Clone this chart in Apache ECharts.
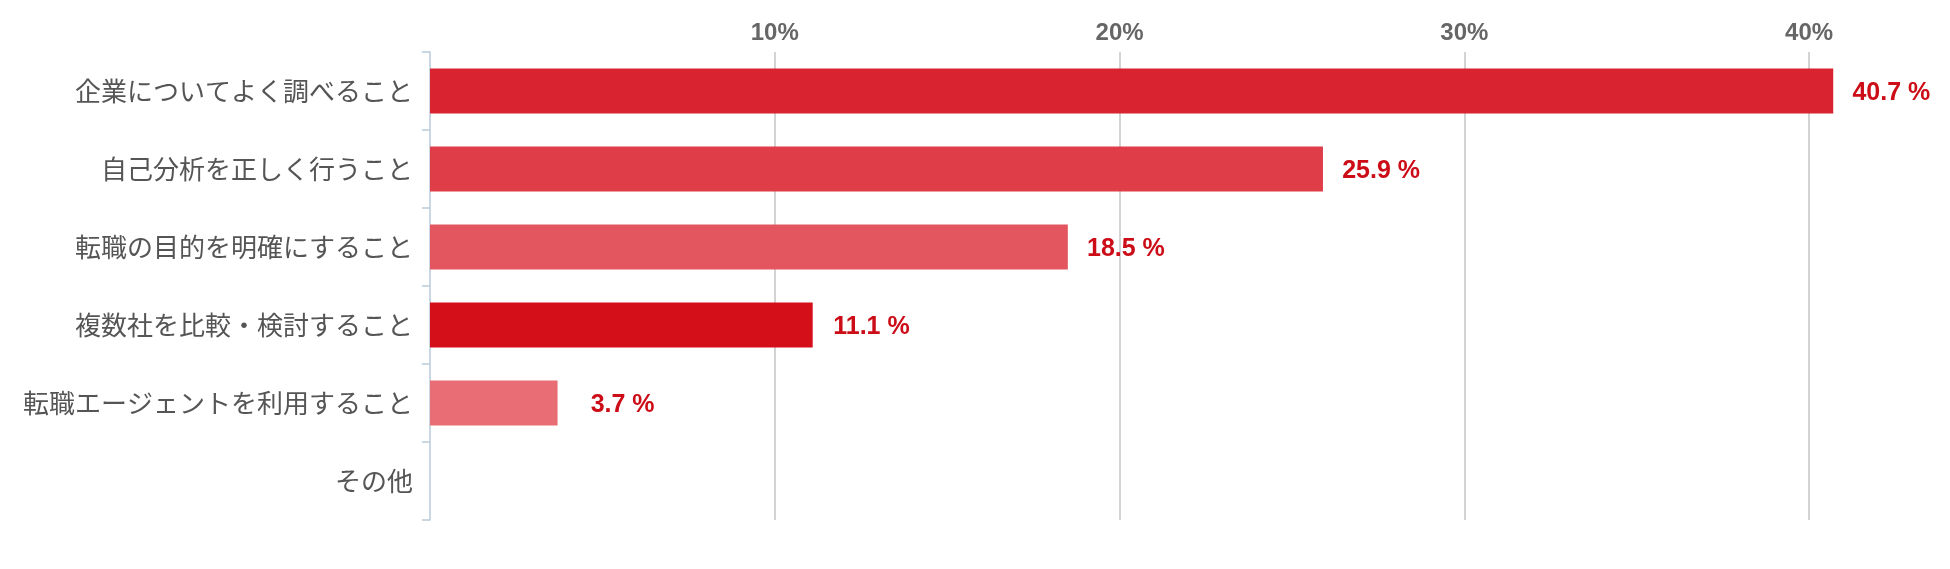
<!DOCTYPE html>
<html>
<head>
<meta charset="utf-8">
<script src="https://cdn.jsdelivr.net/npm/echarts@6/dist/echarts.min.js"></script>
<style>
html,body{margin:0;padding:0;background:#fff;}
#chart{width:1950px;height:569px;}
</style>
</head>
<body>
<div id="chart"></div>
<script>
const categories = [
  '企業についてよく調べること',
  '自己分析を正しく行うこと',
  '転職の目的を明確にすること',
  '複数社を比較・検討すること',
  '転職エージェントを利用すること',
  'その他'
];
const values = [40.7, 25.9, 18.5, 11.1, 3.7, null];
const barColors = ['#da2330', '#df3d48', '#e35660', '#d50f1a', '#e86d75', '#e86d75'];
const xTicks = [0, 10, 20, 30, 40];
const xMax = 44;

const chart = echarts.init(document.getElementById('chart'));
chart.setOption({
  animation: false,
  backgroundColor: '#ffffff',
  grid: { left: 430, top: 52, width: 1517, height: 468, containLabel: false },
  xAxis: {
    type: 'value',
    position: 'top',
    min: xTicks[0],
    max: xMax,
    interval: xTicks[1] - xTicks[0],
    axisLine: { show: false },
    axisTick: { show: false },
    splitLine: { show: true, showMinLine: false, showMaxLine: false, lineStyle: { color: '#c4c4c4', width: 1.5 } },
    axisLabel: {
      showMinLabel: false,
      showMaxLabel: false,
      margin: 7,
      formatter: '{value}%',
      color: '#666666',
      fontWeight: 'bold',
      fontSize: 24,
      fontFamily: '"Liberation Sans", Arial, sans-serif'
    }
  },
  yAxis: {
    type: 'category',
    data: categories,
    inverse: true,
    axisLine: { show: true, lineStyle: { color: '#b9cbdc', width: 1.5 } },
    axisTick: { show: true, length: 8, lineStyle: { color: '#b9cbdc', width: 1.5 } },
    axisLabel: {
      margin: 17,
      color: '#555555',
      fontSize: 26,
      fontFamily: '"Noto Sans CJK JP", sans-serif'
    }
  },
  series: [{
    type: 'bar',
    data: values.map((v, i) => ({ value: v, itemStyle: { color: barColors[i] } })),
    barCategoryGap: '42%',
    label: {
      show: true,
      position: 'right',
      distance: 17,
      offset: [0, 2],
      width: 80,
      formatter: function (p) { return p.value == null ? '' : '{v|' + p.value.toFixed(1) + ' %}'; },
      rich: {
        v: {
          align: 'right',
          color: '#cc0c16',
          fontWeight: 'bold',
          fontSize: 25,
          fontFamily: '"Liberation Sans", Arial, sans-serif'
        }
      }
    }
  }]
});
</script>
</body>
</html>
